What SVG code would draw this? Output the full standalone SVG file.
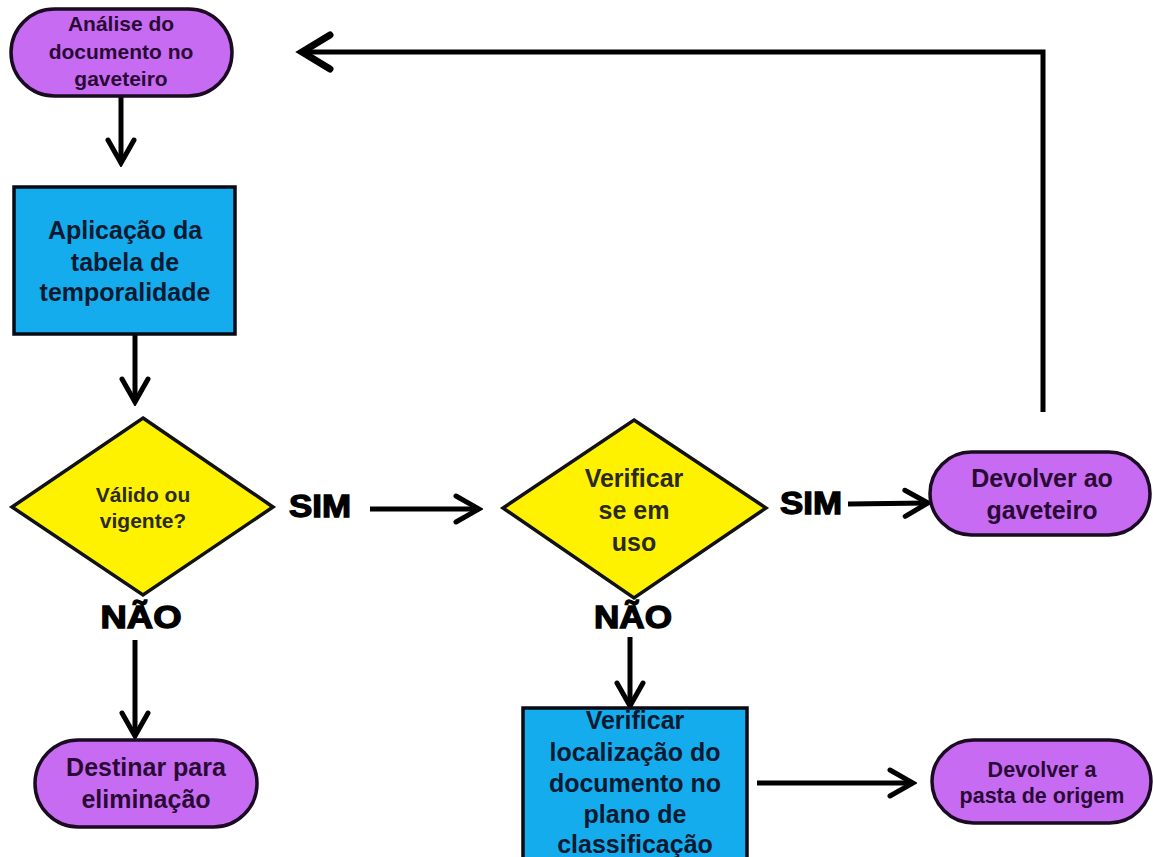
<svg xmlns="http://www.w3.org/2000/svg" width="1153" height="857" viewBox="0 0 1153 857">
<style>
.pill{fill:#C76CF2;stroke:#1a0a22;stroke-width:3.5}
.box{fill:#14ACEC;stroke:#0a0a14;stroke-width:3.5}
.dia{fill:#FFF200;stroke:#111;stroke-width:3.5}
text{font-family:"Liberation Sans",Arial,sans-serif;font-weight:bold;text-anchor:middle}
.tp{fill:#2a0a35}
.tb{fill:#0b1a30}
.td{fill:#2a2a22}
.lbl{fill:#000;font-size:31px;stroke:#000;stroke-width:1.3}
.ln{fill:none;stroke:#000;stroke-width:5}
</style>
<defs>
<marker id="chev" viewBox="0 0 30 32" refX="26" refY="16" markerWidth="30" markerHeight="32" orient="auto" markerUnits="userSpaceOnUse">
<path d="M3,3 L26,16 L3,29" fill="none" stroke="#000" stroke-width="5" stroke-linecap="round"/>
</marker>
<marker id="chevL" viewBox="0 0 40 42" refX="33" refY="21" markerWidth="40" markerHeight="42" orient="auto" markerUnits="userSpaceOnUse">
<path d="M5,4 L33,21 L5,38" fill="none" stroke="#000" stroke-width="7" stroke-linecap="round"/>
</marker>
<clipPath id="clipB2"><rect x="523" y="708" width="224" height="160"/></clipPath>
</defs>
<rect width="1153" height="857" fill="#fff"/>
<g id="connectors">
<path class="ln" d="M121,97 L121,163" marker-end="url(#chev)"/>
<path class="ln" d="M135,335 L135,402" marker-end="url(#chev)"/>
<path class="ln" d="M370,509 L479,509" marker-end="url(#chev)"/>
<path class="ln" d="M848,504 L928,503" marker-end="url(#chev)"/>
<path class="ln" d="M1043,412 L1043,52 L302,52" stroke-width="6" marker-end="url(#chevL)"/>
<path class="ln" d="M135,640 L135,736" marker-end="url(#chev)"/>
<path class="ln" d="M630,637 L630,706" marker-end="url(#chev)"/>
<path class="ln" d="M757,783 L913,783" marker-end="url(#chev)"/>
</g>
<g id="n1">
<rect class="pill" x="11" y="9" width="221" height="87" rx="43.5"/>
<text class="tp" font-size="21" x="121" y="31">Análise do</text>
<text class="tp" font-size="21" x="121" y="59">documento no</text>
<text class="tp" font-size="21" x="121" y="86">gaveteiro</text>
</g>
<g id="n2">
<rect class="box" x="14" y="187" width="221" height="147"/>
<text class="tb" font-size="25" x="125" y="239">Aplicação da</text>
<text class="tb" font-size="25" x="125" y="271">tabela de</text>
<text class="tb" font-size="25" x="125" y="301">temporalidade</text>
</g>
<g id="n3">
<polygon class="dia" points="143,418 273,507 143,595 12,507"/>
<text class="td" font-size="21" x="143" y="502">Válido ou</text>
<text class="td" font-size="21" x="143" y="528">vigente?</text>
</g>
<g id="n4">
<polygon class="dia" points="634,420 766,508 634,598 503,508"/>
<text class="td" font-size="25" x="634" y="487">Verificar</text>
<text class="td" font-size="25" x="634" y="519">se em</text>
<text class="td" font-size="25" x="634" y="551">uso</text>
</g>
<g id="n5">
<rect class="pill" x="930" y="452" width="220" height="83" rx="41.5"/>
<text class="tp" font-size="25" x="1042" y="487">Devolver ao</text>
<text class="tp" font-size="25" x="1042" y="519">gaveteiro</text>
</g>
<g id="n6">
<rect class="pill" x="35" y="740" width="222" height="87" rx="43.5"/>
<text class="tp" font-size="25" x="146" y="776">Destinar para</text>
<text class="tp" font-size="25" x="146" y="808">eliminação</text>
</g>
<g id="n7">
<rect x="523" y="708" width="224" height="160" fill="#14ACEC"/>
<g clip-path="url(#clipB2)">
<text class="tb" font-size="25" x="635" y="729">Verificar</text>
<text class="tb" font-size="25" x="635" y="761">localização do</text>
<text class="tb" font-size="25" x="635" y="792">documento no</text>
<text class="tb" font-size="25" x="635" y="823">plano de</text>
<text class="tb" font-size="25" x="635" y="853">classificação</text>
</g>
<rect x="523" y="708" width="224" height="160" fill="none" stroke="#0a0a14" stroke-width="3.5"/>
</g>
<g id="n8">
<rect class="pill" x="932" y="740" width="219" height="83" rx="41.5"/>
<text class="tp" font-size="21.5" x="1042" y="777">Devolver a</text>
<text class="tp" font-size="21.5" x="1042" y="803">pasta de origem</text>
</g>
<g id="labels">
<text class="lbl" x="320" y="517" textLength="62" lengthAdjust="spacingAndGlyphs">SIM</text>
<text class="lbl" x="811" y="514" textLength="62" lengthAdjust="spacingAndGlyphs">SIM</text>
<text class="lbl" x="141" y="628" textLength="81" lengthAdjust="spacingAndGlyphs">NÃO</text>
<text class="lbl" x="633" y="628" textLength="78" lengthAdjust="spacingAndGlyphs">NÃO</text>
</g>
</svg>
